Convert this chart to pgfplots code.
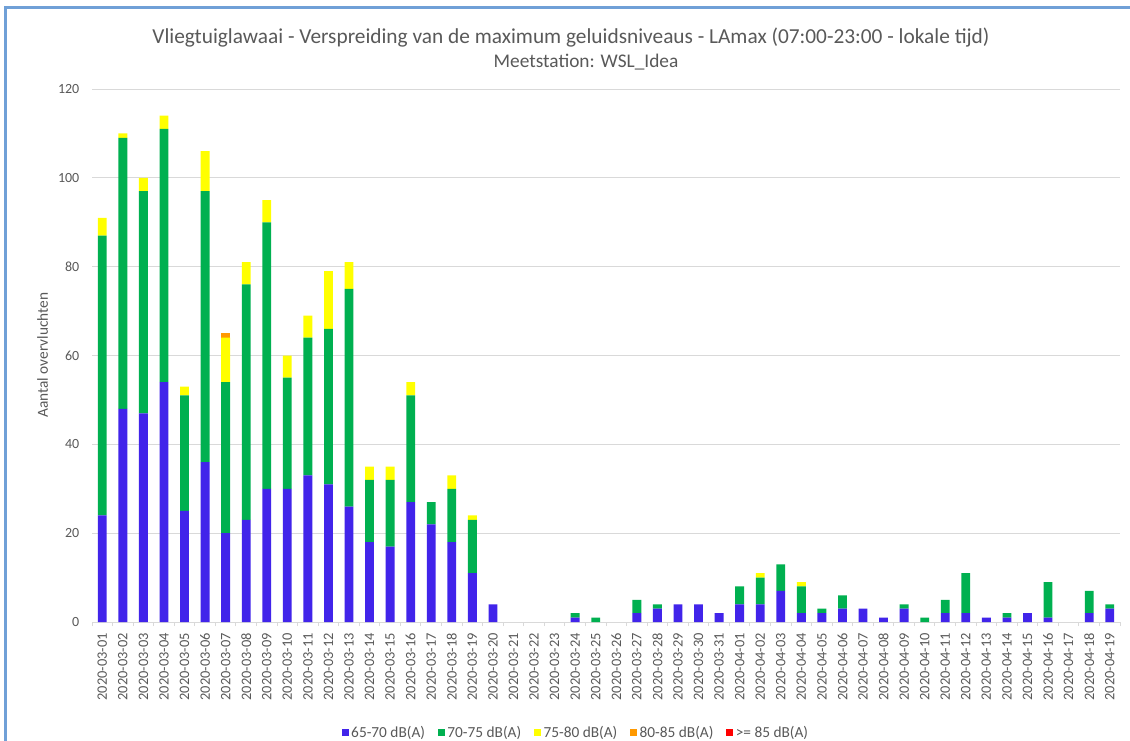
\documentclass[border=0pt]{standalone}
\usepackage{pgfplots}
\pgfplotsset{compat=1.18}
\usepackage{pgfplotstable}
\usepackage{fontspec}
\setmainfont{Carlito}
\definecolor{cblue}{RGB}{65,36,234}
\definecolor{cgreen}{RGB}{0,176,80}
\definecolor{cyellow}{RGB}{255,255,0}
\definecolor{corange}{RGB}{255,153,0}
\definecolor{cred}{RGB}{255,0,0}
\definecolor{textgray}{RGB}{89,89,89}
\definecolor{gridgray}{RGB}{217,217,217}
\definecolor{bordercol}{RGB}{112,160,215}

\pgfplotstableread{
i b g y o r
0 24 63 4 0 0
1 48 61 1 0 0
2 47 50 3 0 0
3 54 57 3 0 0
4 25 26 2 0 0
5 36 61 9 0 0
6 20 34 10 1 0
7 23 53 5 0 0
8 30 60 5 0 0
9 30 25 5 0 0
10 33 31 5 0 0
11 31 35 13 0 0
12 26 49 6 0 0
13 18 14 3 0 0
14 17 15 3 0 0
15 27 24 3 0 0
16 22 5 0 0 0
17 18 12 3 0 0
18 11 12 1 0 0
19 4 0 0 0 0
20 0 0 0 0 0
21 0 0 0 0 0
22 0 0 0 0 0
23 1 1 0 0 0
24 0 1 0 0 0
25 0 0 0 0 0
26 2 3 0 0 0
27 3 1 0 0 0
28 4 0 0 0 0
29 4 0 0 0 0
30 2 0 0 0 0
31 4 4 0 0 0
32 4 6 1 0 0
33 7 6 0 0 0
34 2 6 1 0 0
35 2 1 0 0 0
36 3 3 0 0 0
37 3 0 0 0 0
38 1 0 0 0 0
39 3 1 0 0 0
40 0 1 0 0 0
41 2 3 0 0 0
42 2 9 0 0 0
43 1 0 0 0 0
44 1 1 0 0 0
45 2 0 0 0 0
46 1 8 0 0 0
47 0 0 0 0 0
48 2 5 0 0 0
49 3 1 0 0 0
}\data

\begin{document}
\begin{tikzpicture}
\useasboundingbox (0,0) rectangle (847.5pt,-555pt);
\fill[white] (0,0) rectangle (847.5pt,-555pt);
\draw[bordercol, line width=2.2pt] (3.9pt,-560pt) -- (3.9pt,-5.4pt) -- (850pt,-5.4pt);
\node[text=textgray, font=\fontsize{16}{18}\selectfont] at (428.25pt,-28.5pt) {Vliegtuiglawaai - Verspreiding van de maximum geluidsniveaus - LAmax (07:00-23:00 - lokale tijd)};
\node[text=textgray, font=\fontsize{14.5}{17}\selectfont] at (439.5pt,-46.8pt) {Meetstation: WSL\_Idea};
\node[text=textgray, rotate=90, font=\fontsize{11.5}{13}\selectfont] at (31.9pt,-266.25pt) {Aantal overvluchten};
\begin{axis}[
  at={(69pt,-466.5pt)}, anchor=south west,
  scale only axis, width=771pt, height=399.75pt,
  ybar stacked, bar width=0.43,
  xmin=-0.5, xmax=49.5, ymin=0, ymax=120,
  enlarge x limits=false,
  xtick={0,...,49},
  xticklabels={2020-03-01,2020-03-02,2020-03-03,2020-03-04,2020-03-05,2020-03-06,2020-03-07,2020-03-08,2020-03-09,2020-03-10,2020-03-11,2020-03-12,2020-03-13,2020-03-14,2020-03-15,2020-03-16,2020-03-17,2020-03-18,2020-03-19,2020-03-20,2020-03-21,2020-03-22,2020-03-23,2020-03-24,2020-03-25,2020-03-26,2020-03-27,2020-03-28,2020-03-29,2020-03-30,2020-03-31,2020-04-01,2020-04-02,2020-04-03,2020-04-04,2020-04-05,2020-04-06,2020-04-07,2020-04-08,2020-04-09,2020-04-10,2020-04-11,2020-04-12,2020-04-13,2020-04-14,2020-04-15,2020-04-16,2020-04-17,2020-04-18,2020-04-19},
  minor xtick={-0.5,0.5,...,49.5},
  ytick={0,20,...,120},
  major tick length=0pt,
  minor tick length=3pt,
  tick align=outside,
  minor tick style={gridgray, line width=0.75pt},
  axis x line*=bottom, axis y line*=left,
  y axis line style={draw=none},
  x axis line style={gridgray, line width=0.75pt},
  ymajorgrids, grid style={gridgray, line width=0.75pt},
  /pgf/number format/assume math mode=true,
  x tick label style={rotate=90, anchor=east, text=textgray, font=\fontsize{10.8}{12}\selectfont, xshift=-5pt},
  y tick label style={text=textgray, font=\fontsize{10.5}{12}\selectfont, xshift=-6pt},
  legend columns=5,
  legend style={at={(0.471,-0.208)}, anchor=center, draw=none, fill=none,
    font=\fontsize{11.5}{13}\selectfont, text=textgray,
    /tikz/every even column/.append style={column sep=7.5pt}},
  legend image code/.code={\fill[#1] (0pt,-2.6pt) rectangle (5.25pt,2.6pt);},
]
\addplot[fill=cblue, draw=none] table[x=i,y=b]{\data};
\addplot[fill=cgreen, draw=none] table[x=i,y=g]{\data};
\addplot[fill=cyellow, draw=none] table[x=i,y=y]{\data};
\addplot[fill=corange, draw=none] table[x=i,y=o]{\data};
\addplot[fill=cred, draw=none] table[x=i,y=r]{\data};
\legend{65-70 dB(A),70-75 dB(A),75-80 dB(A),80-85 dB(A),>= 85 dB(A)}
\end{axis}
\end{tikzpicture}
\end{document}
